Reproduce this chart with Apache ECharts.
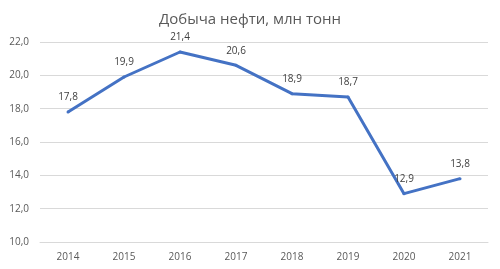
<!DOCTYPE html>
<html><head><meta charset="utf-8">
<script src="https://cdn.jsdelivr.net/npm/echarts@6/dist/echarts.min.js"></script>
<style>html,body{margin:0;padding:0;background:#fff}#c{width:500px;height:269px}</style>
</head><body><div id="c"></div>
<script>
var titleText = 'Добыча нефти, млн тонн';
var categories = ['2014','2015','2016','2017','2018','2019','2020','2021'];
var values = [17.8, 19.9, 21.4, 20.6, 18.9, 18.7, 12.9, 13.8];
var yMin = 10, yMax = 22, yStep = 2;
function fmt(v){ return Number(v).toFixed(1).replace('.', ','); }
var chart = echarts.init(document.getElementById('c'), null, {renderer:'canvas'});
chart.setOption({
  animation: false,
  backgroundColor: '#ffffff',
  title: { text: titleText, left: 'center', top: 7,
    textStyle: { fontFamily: 'Open Sans', fontSize: 15, fontWeight: 'normal', color: '#595959' } },
  grid: { left: 40, right: 12, top: 42, bottom: 27 },
  xAxis: { type: 'category', data: categories, boundaryGap: true,
    axisLine: { show: true, lineStyle: { color: '#d9d9d9' } },
    axisTick: { show: false },
    axisLabel: { color: '#595959', fontSize: 10, fontFamily: 'Open Sans', margin: 10 } },
  yAxis: { type: 'value', min: yMin, max: yMax, interval: yStep,
    axisLine: { show: false }, axisTick: { show: false },
    splitLine: { lineStyle: { color: '#d9d9d9', width: 1 } },
    axisLabel: { color: '#595959', fontSize: 10, fontFamily: 'Open Sans', margin: 11, formatter: fmt } },
  series: [{ type: 'line', data: values, symbol: 'circle', symbolSize: 3, showSymbol: true,
    showAllSymbol: true,
    itemStyle: { color: '#4472C4', borderWidth: 0 },
    lineStyle: { color: '#4472C4', width: 3 },
    label: { show: true, position: 'top', distance: 8, color: '#404040', fontSize: 10, opacity: 1,
      fontFamily: 'Open Sans', formatter: function(p){ return fmt(p.value); } } }]
});
</script></body></html>
